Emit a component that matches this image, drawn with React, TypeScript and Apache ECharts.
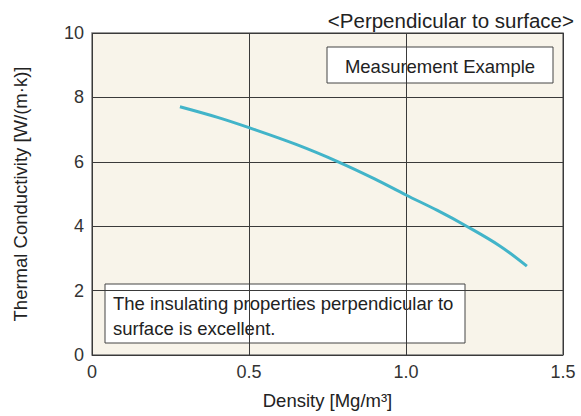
import React, { useEffect, useRef } from "react";
import * as echarts from "echarts";

const densities = [0.28, 0.4, 0.5, 0.65, 0.784, 0.9, 1.0, 1.1, 1.193, 1.3, 1.385];
const conductivity = [7.71, 7.38, 7.06, 6.54, 6.0, 5.47, 4.97, 4.49, 4.0, 3.38, 2.76];
const xTicks = ["0", "0.5", "1.0", "1.5"];
const title = "<Perpendicular to surface>";
const xName = "Density [Mg/m³]";
const yName = "Thermal Conductivity [W/(m·k)]";
const boxLabel = "Measurement Example";
const noteLines = ["The insulating properties perpendicular to", "surface is excellent."];

export default function App() {
  const ref = useRef<HTMLDivElement>(null);
  useEffect(() => {
    if (!ref.current) return;
    const chart = echarts.init(ref.current, null, { renderer: "svg" });
    const font = "Liberation Sans, Arial, sans-serif";
    const tickFont = "Liberation Sans Narrow, Liberation Sans, Arial, sans-serif";
    chart.setOption({
      animation: false,
      backgroundColor: "#ffffff",
      grid: {
        left: 92,
        top: 33,
        right: 18,
        bottom: 61,
        show: true,
        backgroundColor: "#f8f4ea",
        borderColor: "#7a7a7a",
        borderWidth: 1.5,
      },
      xAxis: {
        type: "value",
        min: 0,
        max: 1.5,
        interval: 0.5,
        name: xName,
        nameLocation: "middle",
        nameGap: 36,
        nameTextStyle: { color: "#222", fontSize: 18.5, fontFamily: font },
        axisLine: { show: false },
        axisTick: { show: false },
        axisLabel: {
          color: "#333",
          fontSize: 18,
          fontFamily: tickFont,
          margin: 8,
          formatter: (v: number) => {
            const i = Math.round(v / 0.5);
            return xTicks[i] ?? String(v);
          },
        },
        splitLine: { show: true, lineStyle: { color: "#3a3a3a", width: 1 } },
      },
      yAxis: {
        type: "value",
        min: 0,
        max: 10,
        interval: 2,
        name: yName,
        nameLocation: "middle",
        nameGap: 62,
        nameTextStyle: { color: "#222", fontSize: 18.5, fontFamily: font },
        axisLine: { show: false },
        axisTick: { show: false },
        axisLabel: { color: "#333", fontSize: 18, fontFamily: tickFont, margin: 8 },
        splitLine: { show: true, lineStyle: { color: "#3a3a3a", width: 1 } },
      },
      series: [
        {
          type: "line",
          data: densities.map((d, i) => [d, conductivity[i]]),
          smooth: 0.35,
          showSymbol: false,
          lineStyle: { color: "#42b4c9", width: 3 },
        },
      ],
      graphic: [
        {
          type: "text",
          x: 574,
          y: 20,
          style: {
            text: title,
            fontSize: 20.5,
            fontFamily: font,
            fill: "#222",
            align: "right",
            verticalAlign: "middle",
          },
        },
        {
          type: "group",
          x: 327,
          y: 47,
          children: [
            {
              type: "rect",
              shape: { x: 0, y: 0, width: 226, height: 36 },
              style: { fill: "#ffffff", stroke: "#444", lineWidth: 1 },
            },
            {
              type: "text",
              x: 113,
              y: 19,
              style: {
                text: boxLabel,
                fontSize: 18.5,
                fontFamily: font,
                fill: "#222",
                align: "center",
                verticalAlign: "middle",
              },
            },
          ],
        },
        {
          type: "group",
          x: 105,
          y: 284,
          children: [
            {
              type: "rect",
              shape: { x: 0, y: 0, width: 360, height: 59 },
              style: { fill: "#ffffff", stroke: "#444", lineWidth: 1 },
            },
            {
              type: "text",
              x: 8,
              y: 19,
              style: {
                text: noteLines[0],
                fontSize: 18.5,
                fontFamily: font,
                fill: "#222",
                verticalAlign: "middle",
              },
            },
            {
              type: "text",
              x: 8,
              y: 44,
              style: {
                text: noteLines[1],
                fontSize: 18.5,
                fontFamily: font,
                fill: "#222",
                verticalAlign: "middle",
              },
            },
          ],
        },
      ],
    });
    return () => chart.dispose();
  }, []);
  return <div ref={ref} style={{ width: 581, height: 416, position: "absolute", left: 0, top: 0 }} />;
}
